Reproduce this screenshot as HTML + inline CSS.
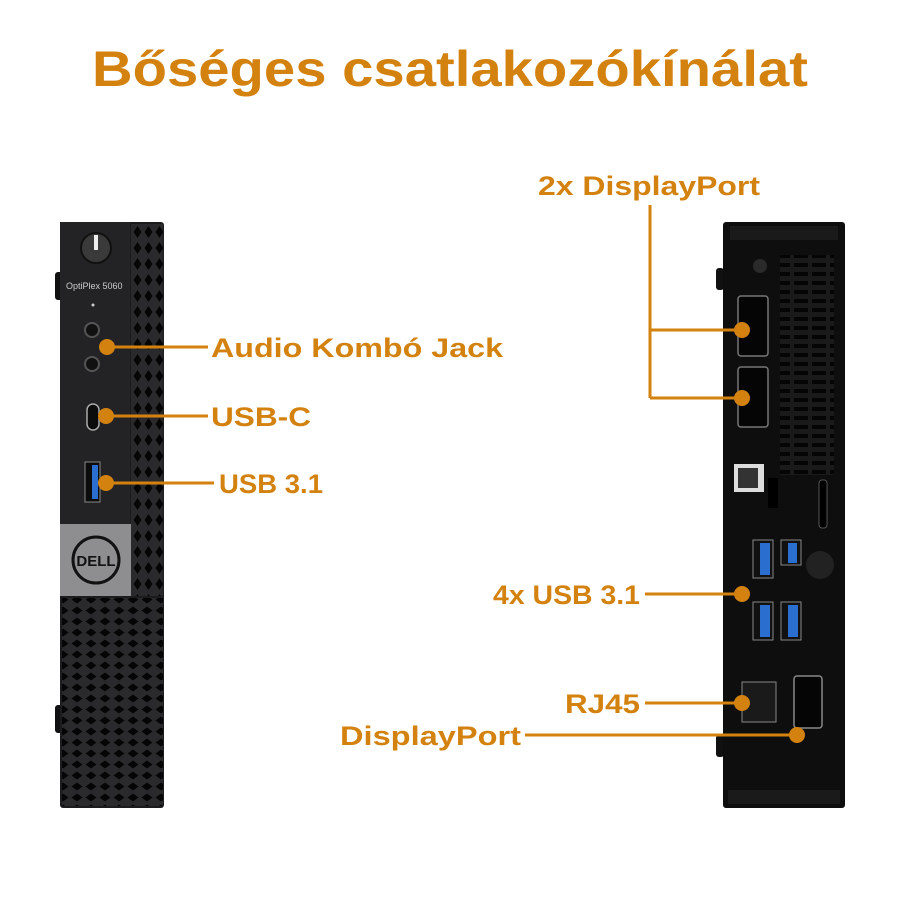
<!DOCTYPE html>
<html><head><meta charset="utf-8"><style>
html,body{margin:0;padding:0;background:#fff;}
svg{display:block}
text{font-family:"Liberation Sans",sans-serif;font-weight:bold;fill:#d4820f}
</style></head><body>
<svg width="900" height="900" viewBox="0 0 900 900" xmlns="http://www.w3.org/2000/svg">
<defs>
<pattern id="dia" width="11" height="16" patternUnits="userSpaceOnUse">
<rect width="11" height="16" fill="#2a2a2c"/>
<polygon points="5.5,2 9.5,8 5.5,14 1.5,8" fill="#050505"/>
</pattern>
<pattern id="dia2" width="14" height="11" patternUnits="userSpaceOnUse">
<rect width="14" height="11" fill="#2a2a2c"/>
<polygon points="7,1.5 12.5,5.5 7,9.5 1.5,5.5" fill="#050505"/>
</pattern>
<pattern id="vent" width="18" height="9" patternUnits="userSpaceOnUse">
<rect width="18" height="9" fill="#1a1a1a"/>
<rect x="2" y="2" width="14" height="4" fill="#050505"/>
</pattern>
</defs>
<text x="92" y="86" font-size="50" textLength="716" lengthAdjust="spacingAndGlyphs">Bőséges csatlakozókínálat</text>

<!-- front unit -->
<rect x="55" y="272" width="8" height="28" rx="3" fill="#111"/>
<rect x="55" y="705" width="8" height="28" rx="3" fill="#111"/>
<rect x="60" y="222" width="104" height="586" rx="3" fill="#1c1c1e"/>
<rect x="131" y="224" width="32" height="372" fill="url(#dia)"/>
<rect x="62" y="598" width="101" height="208" fill="url(#dia2)"/>
<rect x="60" y="222" width="70" height="302" fill="#232325"/>
<circle cx="96" cy="248" r="15" fill="#3a3a3a" stroke="#111" stroke-width="2"/>
<rect x="94" y="235" width="4" height="15" fill="#eee"/>
<text x="66" y="289" font-size="9" style="fill:#ccc;font-weight:normal">OptiPlex 5060</text>
<circle cx="93" cy="305" r="1.5" fill="#ccc"/>
<circle cx="92" cy="330" r="7" fill="#111" stroke="#555" stroke-width="2"/>
<circle cx="92" cy="364" r="7" fill="#111" stroke="#555" stroke-width="2"/>
<rect x="87" y="404" width="12" height="26" rx="6" fill="#0c0c0c" stroke="#aaa" stroke-width="1.5"/>
<rect x="85" y="462" width="15" height="40" fill="#0c0c0c" stroke="#888"/>
<rect x="92" y="465" width="6" height="34" fill="#2a6fd0"/>
<rect x="60" y="524" width="71" height="72" fill="#8e8e90"/>
<circle cx="96" cy="560" r="23" fill="#8e8e90" stroke="#111" stroke-width="3"/>
<text x="96" y="566" font-size="15" text-anchor="middle" style="fill:#111">DELL</text>

<!-- rear unit -->
<rect x="716" y="268" width="8" height="22" rx="3" fill="#111"/>
<rect x="716" y="735" width="8" height="22" rx="3" fill="#111"/>
<rect x="723" y="222" width="122" height="586" rx="3" fill="#0e0e0e"/>
<rect x="730" y="226" width="108" height="14" fill="#1a1a1a"/>
<rect x="780" y="255" width="54" height="220" fill="url(#vent)"/>
<circle cx="760" cy="266" r="7" fill="#2a2a2a"/>
<rect x="738" y="296" width="30" height="60" rx="3" fill="#050505" stroke="#777" stroke-width="1.5"/>
<rect x="738" y="367" width="30" height="60" rx="3" fill="#050505" stroke="#777" stroke-width="1.5"/>
<rect x="734" y="464" width="30" height="28" fill="#ddd"/>
<rect x="738" y="468" width="20" height="20" fill="#333"/>
<rect x="768" y="478" width="10" height="30" fill="#000"/>
<rect x="819" y="480" width="8" height="48" rx="3" fill="#000" stroke="#555"/>
<rect x="753" y="540" width="20" height="38" fill="#111" stroke="#888"/>
<rect x="760" y="543" width="10" height="32" fill="#2a6fd0"/>
<rect x="781" y="540" width="20" height="25" fill="#111" stroke="#888"/>
<rect x="788" y="543" width="9" height="20" fill="#2a6fd0"/>
<circle cx="820" cy="565" r="14" fill="#222"/>
<rect x="753" y="602" width="20" height="38" fill="#111" stroke="#888"/>
<rect x="760" y="605" width="10" height="32" fill="#2a6fd0"/>
<rect x="781" y="602" width="20" height="38" fill="#111" stroke="#888"/>
<rect x="788" y="605" width="10" height="32" fill="#2a6fd0"/>
<rect x="742" y="682" width="34" height="40" fill="#1a1a1a" stroke="#888"/>
<rect x="794" y="676" width="28" height="52" rx="3" fill="#050505" stroke="#888" stroke-width="1.5"/>
<rect x="728" y="790" width="112" height="14" fill="#1a1a1a"/>

<!-- connectors -->
<g stroke="#d4820f" stroke-width="3" fill="none">
<line x1="107" y1="347" x2="208" y2="347"/>
<line x1="106" y1="416" x2="208" y2="416"/>
<line x1="106" y1="483" x2="214" y2="483"/>
<line x1="650" y1="205" x2="650" y2="398"/>
<line x1="650" y1="330" x2="742" y2="330"/>
<line x1="650" y1="398" x2="742" y2="398"/>
<line x1="645" y1="594" x2="742" y2="594"/>
<line x1="645" y1="703" x2="742" y2="703"/>
<line x1="525" y1="735" x2="797" y2="735"/>
</g>
<g fill="#d4820f">
<circle cx="107" cy="347" r="8"/>
<circle cx="106" cy="416" r="8"/>
<circle cx="106" cy="483" r="8"/>
<circle cx="742" cy="330" r="8"/>
<circle cx="742" cy="398" r="8"/>
<circle cx="742" cy="594" r="8"/>
<circle cx="742" cy="703" r="8"/>
<circle cx="797" cy="735" r="8"/>
</g>
<g font-size="27">
<text x="211" y="357" textLength="292" lengthAdjust="spacingAndGlyphs">Audio Kombó Jack</text>
<text x="211" y="426" textLength="100" lengthAdjust="spacingAndGlyphs">USB-C</text>
<text x="219" y="493" textLength="104" lengthAdjust="spacingAndGlyphs">USB 3.1</text>
<text x="538" y="195" textLength="222" lengthAdjust="spacingAndGlyphs">2x DisplayPort</text>
<text x="493" y="604" textLength="147" lengthAdjust="spacingAndGlyphs">4x USB 3.1</text>
<text x="565" y="713" textLength="75" lengthAdjust="spacingAndGlyphs">RJ45</text>
<text x="340" y="745" textLength="181" lengthAdjust="spacingAndGlyphs">DisplayPort</text>
</g>
</svg>
</body></html>
